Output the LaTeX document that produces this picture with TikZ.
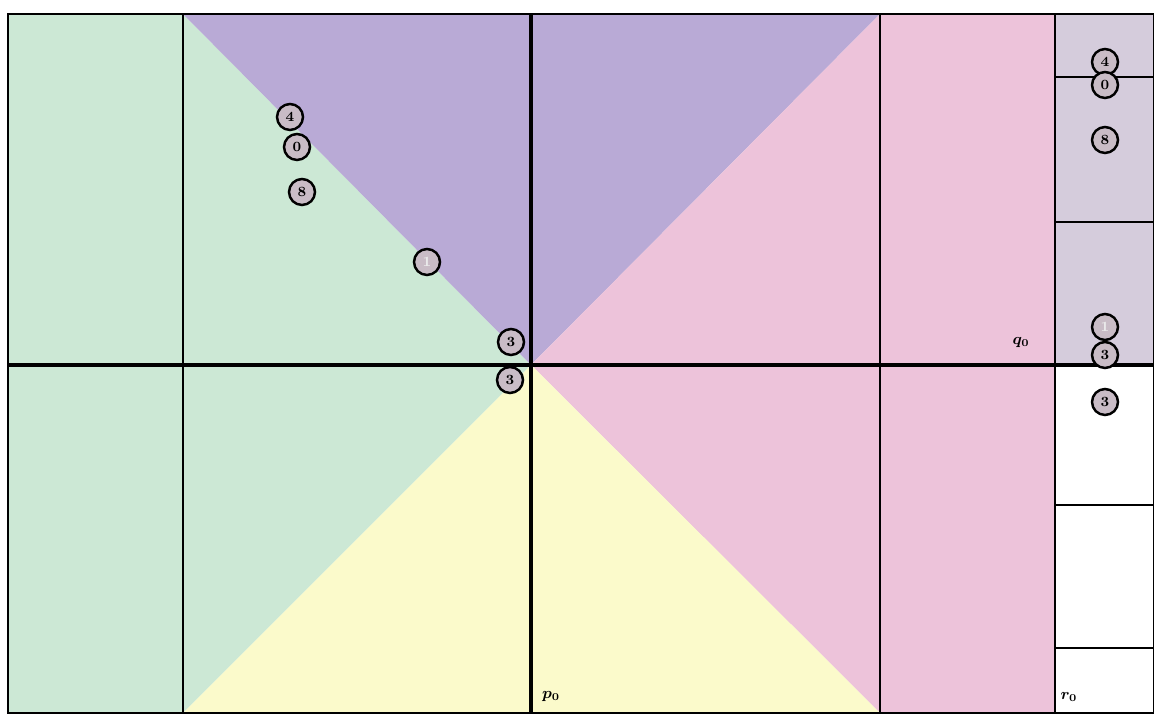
\documentclass[tikz,border=0pt]{standalone}
\usepackage{tikz}
\usepackage{amsmath,amssymb}
\usetikzlibrary{positioning}
\definecolor{mint}{HTML}{CCE8D5}
\definecolor{lilac}{HTML}{B9AAD6}
\definecolor{rose}{HTML}{EDC3DA}
\definecolor{lemon}{HTML}{FBFACB}
\definecolor{haze}{HTML}{D5CCDC}
\definecolor{dotgrey}{HTML}{C9BCC6}

\begin{document}
\begin{tikzpicture}[x=0.2mm,y=-0.2mm,
        dot/.style={circle,draw,fill=dotgrey,line width=1.4pt,inner sep=0pt,minimum size=5.2mm,font=\footnotesize\bfseries},
        faint/.style={dot,text=white!85!gray},
        lbl/.style={inner sep=0pt,font=\small\bfseries}]
        \useasboundingbox (0,0) rectangle (1154,717);
        \fill[mint]  (8,14) -- (183,14) -- (531,365) -- (183,713) -- (8,713) -- cycle;
        \fill[lilac] (183,14) -- (880,14) -- (531,365) -- cycle;
        \fill[rose]  (880,14) -- (1055,14) -- (1055,713) -- (880,713) -- (531,365) -- cycle;
        \fill[lemon] (531,365) -- (880,713) -- (183,713) -- cycle;
        \fill[haze]  (1055,14) rectangle (1154,365);
        \draw[line width=1pt] (8,14) rectangle (1154,713);
        \draw[line width=1pt] (183,14) -- (183,713) (880,14) -- (880,713);
        \draw[line width=1pt] (1055,77) -- (1154,77) (1055,222) -- (1154,222)
                              (1055,505) -- (1154,505) (1055,648) -- (1154,648);
        \draw[line width=1.6pt] (1055,14) -- (1055,713);
        \draw[line width=2pt] (531,14) -- (531,713) (8,365) -- (1154,365);
        \node[dot]   (left4)  at (290,117) {4};
        \node[dot]   (left0)  at (297,147) {0};
        \node[dot]   (left8)  at (302,192) {8};
        \node[faint] (left1)  at (427,262) {1};
        \node[dot]   (left3)  at (511,342) {3};
        \node[dot]   (left3b) at (510,380) {3};
        \node[dot]   (right4)  at (1105,62)  {4};
        \node[dot]   (right0)  at (1105,85)  {0};
        \node[dot]   (right8)  at (1105,140) {8};
        \node[faint] (right1)  at (1105,327) {1};
        \node[dot]   (right3)  at (1105,355) {3};
        \node[dot]   (right3b) at (1105,402) {3};
        \node[lbl] (q0) at (1021,343) {$\boldsymbol{q_0}$};
        \node[lbl] (p0) at (551,697) {$\boldsymbol{p_0}$};
        \node[lbl] (r0) at (1069,697) {$\boldsymbol{r_0}$};
    \end{tikzpicture}
\end{document}
